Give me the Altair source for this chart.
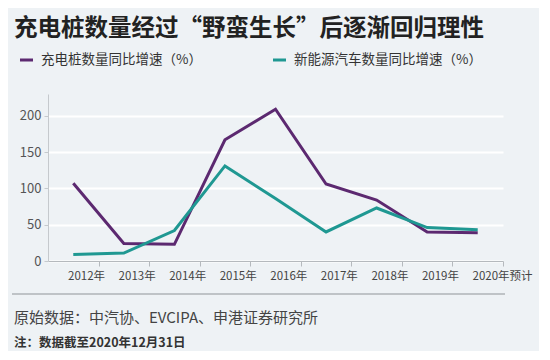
import altair as alt
import pandas as pd

years = [2012, 2013, 2014, 2015, 2016, 2017, 2018, 2019, 2020]
pile_growth = [107, 24, 23, 167, 209, 106, 84, 40, 39]
nev_growth = [9, 11, 42, 131, 86, 40, 73, 46, 43]
series_names = ["充电桩数量同比增速（%）", "新能源汽车数量同比增速（%）"]
colors = ["#5c2970", "#1f9892"]
y_ticks = [0, 50, 100, 150, 200]
title_text = "充电桩数量经过“野蛮生长”后逐渐回归理性"
source_text = "原始数据：中汽协、EVCIPA、申港证券研究所"
note_text = "注：数据截至2020年12月31日"

FONT = "Noto Sans CJK SC"
W, H = 455, 167

df = pd.DataFrame({
    "year": years * 2,
    "value": pile_growth + nev_growth,
    "series": [series_names[0]] * len(years) + [series_names[1]] * len(years),
})

tick_vals = [y + 0.5 for y in years]

x = alt.X("year:Q",
          scale=alt.Scale(domain=[years[0] - 0.5, years[-1] + 0.5], nice=False, zero=False),
          axis=alt.Axis(values=tick_vals, title=None, grid=False,
                        labelExpr="datum.value > 2020 ? '2020年预计' : format(datum.value - 0.5, 'd') + '年'",
                        labelAlign="left", labelOffset=-31, labelColor="#444", labelFontSize=11.5,
                        labelFont=FONT, labelPadding=4,
                        domainColor="#b5b9bd", tickColor="#b5b9bd", tickSize=5, labelOverlap=False))
y = alt.Y("value:Q",
          scale=alt.Scale(domain=[0, 230], nice=False),
          axis=alt.Axis(values=y_ticks, title=None, gridColor="#ffffff", gridWidth=2,
                        labelColor="#555", labelFontSize=13, labelFont=FONT,
                        domainColor="#c5c9cd", tickColor="#c5c9cd", tickSize=4, labelPadding=3))

lines = alt.Chart(df).mark_line(strokeWidth=3, strokeJoin="miter").encode(
    x=x, y=y,
    color=alt.Color("series:N", scale=alt.Scale(domain=series_names, range=colors), legend=None),
    order="year:Q",
)

# Annotation layers (title, legend, source)
title_df = pd.DataFrame({"t": [title_text]})
title = alt.Chart(title_df).mark_text(align="left", baseline="alphabetic", font=FONT,
                                      fontSize=23.5, fontWeight="bold", color="#222").encode(
    text="t:N", x=alt.value(-34), y=alt.value(-58))

leg_df = pd.DataFrame({"series": series_names, "lx": [-28, 225]})
leg_lines = alt.Chart(leg_df).mark_rule(strokeWidth=3).encode(
    x=alt.X("lx:Q", scale=None), x2=alt.X2("lx2:Q"),
    y=alt.value(-34),
    color=alt.Color("series:N", scale=alt.Scale(domain=series_names, range=colors), legend=None),
).transform_calculate(lx2="datum.lx + 13")
leg_text = alt.Chart(leg_df).mark_text(align="left", baseline="middle", font=FONT,
                                       fontSize=13.5, color="#333").encode(
    x=alt.X("tx:Q", scale=None), y=alt.value(-34), text="series:N",
).transform_calculate(tx="datum.lx + 21")

sep = alt.Chart(pd.DataFrame({"a": [0]})).mark_rule(color="#8f9498", strokeWidth=1).encode(
    x=alt.value(-36), x2=alt.value(457), y=alt.value(200))
src = alt.Chart(pd.DataFrame({"t": [source_text]})).mark_text(
    align="left", baseline="alphabetic", font=FONT, fontSize=15, color="#444").encode(
    text="t:N", x=alt.value(-34), y=alt.value(229))
note = alt.Chart(pd.DataFrame({"t": [note_text]})).mark_text(
    align="left", baseline="alphabetic", font=FONT, fontSize=12.5, fontWeight="bold", color="#333").encode(
    text="t:N", x=alt.value(-34), y=alt.value(253))

chart = alt.layer(lines, title, leg_lines, leg_text, sep, src, note).properties(
    width=W, height=H,
    autosize=alt.AutoSizeParams(type="none"),
    padding={"left": 40, "top": 86, "right": 36, "bottom": 90},
    background="#eef2f5",
).configure_view(stroke=None)

chart.save("out.html", embed_options={"renderer": "svg", "actions": False})
